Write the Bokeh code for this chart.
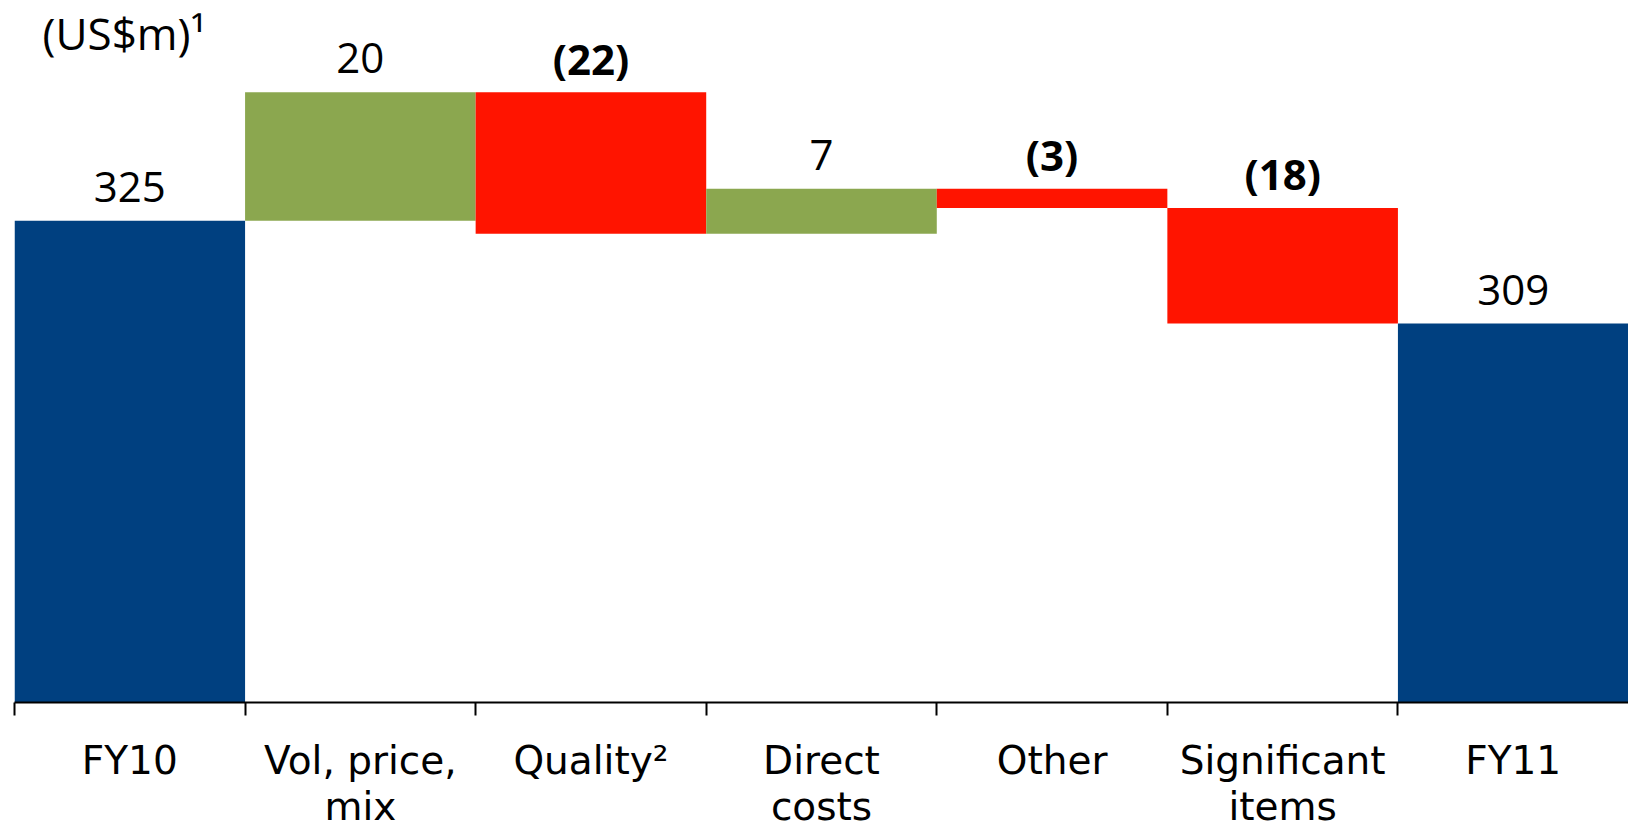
from bokeh.plotting import figure
from bokeh.models import Range1d, FixedTicker, ColumnDataSource
from bokeh.core.properties import value
from bokeh.embed import file_html
from bokeh.resources import INLINE

categories = ["FY10", "Vol, price,\nmix", "Quality\u00b2", "Direct\ncosts", "Other", "Significant\nitems", "FY11"]
start_value = 325
deltas = [20, -22, 7, -3, -18]
end_value = 309
labels = ["325", "20", "(22)", "7", "(3)", "(18)", "309"]

BLUE = "#004080"
GREEN = "#8BA74F"
RED = "#FF1400"

# waterfall geometry from the values
bottoms, tops, colors, styles = [], [], [], []
y_base = 250
y_top = 359.3
bottoms.append(y_base); tops.append(start_value); colors.append(BLUE); styles.append("normal")
run = start_value
for d in deltas:
    new = run + d
    bottoms.append(min(run, new)); tops.append(max(run, new))
    colors.append(GREEN if d > 0 else RED)
    styles.append("normal" if d > 0 else "bold")
    run = new
bottoms.append(y_base); tops.append(end_value); colors.append(BLUE); styles.append("normal")

n = len(categories)
xs = [i + 0.5 for i in range(n)]
src = ColumnDataSource(dict(x=xs, bottom=bottoms, top=tops, color=colors, label=labels, style=styles))

p = figure(width=1628, height=831, output_backend="svg", toolbar_location=None,
           x_range=Range1d(0, n), y_range=Range1d(y_base, y_top),
           min_border_left=14, min_border_right=0, min_border_top=0, min_border_bottom=126,
           y_axis_location=None)
p.outline_line_color = None
p.xgrid.visible = False
p.ygrid.visible = False
p.background_fill_color = "white"
p.border_fill_color = "white"

p.vbar(x="x", width=1.0, bottom="bottom", top="top", fill_color="color", line_color=None, source=src)

p.text(x="x", y="top", text="label", source=src, text_align="center", text_baseline="alphabetic",
       y_offset=-34, text_font=value("Open Sans"), text_font_size="42px", text_font_style="style",
       text_color="black")

p.text(x=[0], y=[y_top], text=["(US$m)\u00b9"], text_align="left", text_baseline="alphabetic",
       x_offset=28, y_offset=32, text_font=value("Open Sans"), text_font_size="44px", text_color="black")

ax = p.xaxis[0]
ax.ticker = FixedTicker(ticks=xs, minor_ticks=list(range(n)))
ax.major_label_overrides = {x: c for x, c in zip(xs, categories)}
ax.axis_line_color = "black"
ax.axis_line_width = 2
ax.major_tick_line_color = None
ax.major_tick_out = 0
ax.major_tick_in = 0
ax.minor_tick_line_color = "black"
ax.minor_tick_line_width = 2
ax.minor_tick_out = 13
ax.minor_tick_in = 0
ax.major_label_standoff = 22
ax.major_label_text_font = "DejaVu Sans"
ax.major_label_text_font_size = "39px"
ax.major_label_text_color = "black"
ax.major_label_text_line_height = 1.03

open("out.html", "w").write(file_html(p, INLINE))
